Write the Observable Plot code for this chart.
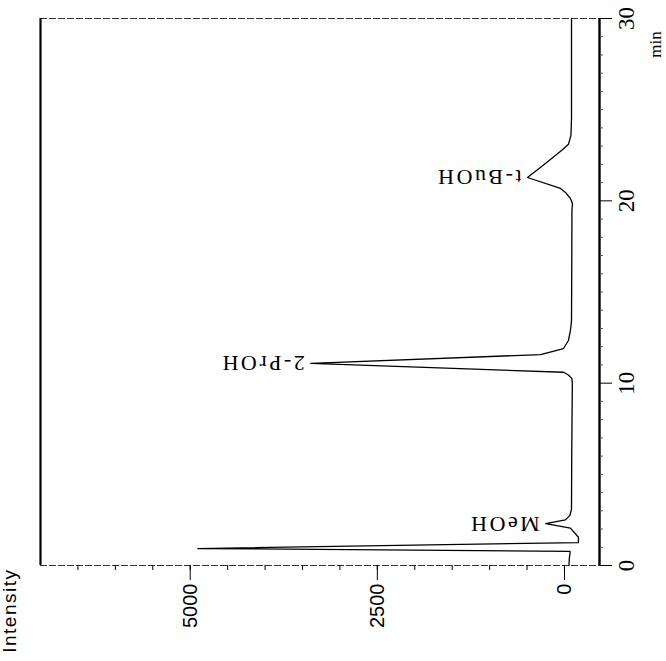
<!DOCTYPE html>
<html>
<head>
<meta charset="utf-8">
<script src="https://cdn.jsdelivr.net/npm/d3@7"></script>
<script src="https://cdn.jsdelivr.net/npm/@observablehq/plot@0.6"></script>
<style>
html, body { margin: 0; padding: 0; background: #fff; }
</style>
</head>
<body>
<div id="chart"></div>
<script>
// Chromatogram trace (retention time in min, detector intensity)
const time = [0, 0.4, 0.7, 0.78, 0.93, 1.26, 1.55, 2.05, 2.30, 2.50, 2.75, 3.1, 6.0, 10.0, 10.25, 10.45, 10.6, 11.08, 11.57, 11.9, 12.34, 12.9, 13.4, 16.0, 19.5, 19.85, 20.13, 20.46, 20.68, 21.28, 21.85, 22.4, 22.8, 23.1, 23.6, 24.5, 27.0, 30.0];
const intensity = [-60, -65, -75, -75, 4900, -187, -187, -80, 250, -13, -73, -94, -97, -105, -100, -53, 13, 3390, 320, 13, -53, -80, -94, -97, -100, -107, -80, -13, 53, 494, 314, 147, 27, -53, -87, -94, -94, -94];

// Peak labels
const peakNames = ["MeOH", "2-PrOH", "t-BuOH"];
const peakTimes = [2.30, 11.08, 21.28];
const peakHeights = [250, 3390, 494];

// Axes
const intensityTicks = [0, 2500, 5000];
const intensityMinorTicks = [0, 500, 1000, 1500, 2000, 2500, 3000, 3500, 4000, 4500, 5000, 5500, 6000, 6500];
const timeTicks = [0, 10, 20, 30];
const timeMinorTicks = [1, 2, 3, 4, 5, 6, 7, 8, 9, 11, 12, 13, 14, 15, 16, 17, 18, 19, 21, 22, 23, 24, 25, 26, 27, 28, 29];
const intensityMax = 7000;
const intensityMin = -468;
const frameTimes = [0, 30];

const trace = time.map((t, i) => ({t, v: intensity[i]}));
const peaks = peakNames.map((name, i) => ({name, t: peakTimes[i], v: peakHeights[i]}));

const chart = Plot.plot({
  width: 666,
  height: 661,
  marginLeft: 40,
  marginRight: 67,
  marginTop: 18,
  marginBottom: 96,
  style: {background: "#fff", color: "#000"},
  x: {domain: [intensityMax, intensityMin], label: null},
  y: {domain: [0, 30], label: null},
  marks: [
    Plot.ruleY(frameTimes, {y: d => d, x1: intensityMax, x2: intensityMin - 150, stroke: "#333", strokeWidth: 1.1, strokeDasharray: "7,2"}),
    Plot.ruleX([intensityMax], {x: d => d, y1: 0, y2: 30, stroke: "#000", strokeWidth: 2.2}),
    Plot.ruleX([intensityMin], {x: d => d, y1: 0, y2: 30, stroke: "#000", strokeWidth: 2.4}),
    Plot.axisX({ticks: intensityMinorTicks, tickSize: 5, tickFormat: () => "", label: null, stroke: "#000"}),
    Plot.axisX({ticks: intensityTicks, tickSize: 15, tickPadding: 3, tickRotate: -90,
      tickFormat: d => String(d), fontSize: 20, fontFamily: "Liberation Sans, Arial, sans-serif",
      label: null, stroke: "#000", fill: "#000"}),
    Plot.axisY({anchor: "right", ticks: timeMinorTicks, tickSize: 3, tickFormat: () => "", label: null, stroke: "#555"}),
    Plot.axisY({anchor: "right", ticks: timeTicks, tickSize: 12, tickPadding: 6, tickRotate: -90,
      textAnchor: "middle", lineAnchor: "top", tickFormat: d => String(d),
      fontSize: 23, fontFamily: "Liberation Serif, Times New Roman, serif",
      label: null, stroke: "#000", fill: "#000"}),
    Plot.line(trace, {x: "v", y: "t", stroke: "#000", strokeWidth: 1.3}),
    Plot.text(peaks, {x: "v", y: "t", text: "name", rotate: 180, textAnchor: "start", dx: -6,
      fontSize: 22, fontFamily: "Liberation Serif, Times New Roman, serif", fill: "#000"}),
    Plot.text(["Intensity"], {frameAnchor: "bottom-left", dx: -25, dy: 3, rotate: -90, textAnchor: "end",
      fontSize: 19, fontFamily: "Liberation Sans, Arial, sans-serif", fill: "#000"}),
    Plot.text(["min"], {frameAnchor: "top-right", dx: 49, dy: 26, rotate: -90, textAnchor: "middle",
      fontSize: 17, fontFamily: "Liberation Serif, Times New Roman, serif", fill: "#000"})
  ]
});

d3.select(chart).selectAll("text")
  .filter(function () { return peakNames.includes(this.textContent); })
  .attr("letter-spacing", "2.5");
d3.select(chart).selectAll("text")
  .filter(function () { return this.textContent === "Intensity"; })
  .attr("letter-spacing", "1.5");

document.getElementById("chart").appendChild(chart);
</script>
</body>
</html>
